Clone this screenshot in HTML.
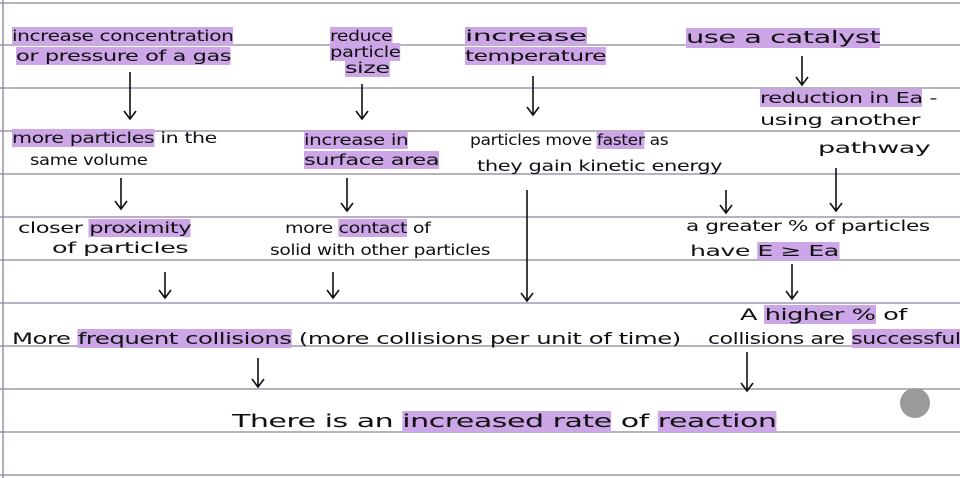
<!DOCTYPE html>
<html><head><style>
body{margin:0;width:960px;height:478px;overflow:hidden;background:#fff;position:relative;font-family:"DejaVu Sans","Liberation Sans",sans-serif;color:#111}
.t{position:absolute;white-space:nowrap;font-size:15px;line-height:17px;letter-spacing:-0.3px;transform-origin:0 50%}
.h{background:#cda6e8}
svg{position:absolute;left:0;top:0}
</style></head><body>
<svg width="960" height="478">
<g stroke="#8f8299" stroke-width="1.3">
<line x1="0" y1="3" x2="960" y2="3"/><line x1="0" y1="45" x2="960" y2="45"/><line x1="0" y1="88" x2="960" y2="88"/>
<line x1="0" y1="131" x2="960" y2="131"/><line x1="0" y1="174" x2="960" y2="174"/><line x1="0" y1="217" x2="960" y2="217"/>
<line x1="0" y1="260" x2="960" y2="260"/><line x1="0" y1="303" x2="960" y2="303"/><line x1="0" y1="346" x2="960" y2="346"/>
<line x1="0" y1="389" x2="960" y2="389"/><line x1="0" y1="432" x2="960" y2="432"/><line x1="0" y1="475" x2="960" y2="475"/>
<line x1="3" y1="0" x2="3" y2="478"/>
</g>
<g stroke="#111" stroke-width="1.6" fill="none">
<path d="M130 72V118M124 111L130 119L136 111"/>
<path d="M362 84V118M356 111L362 119L368 111"/>
<path d="M533 76V114M527 107L533 115L539 107"/>
<path d="M802 56V84M796 77L802 85L808 77"/>
<path d="M121 178V208M115 201L121 209L127 201"/>
<path d="M347 178V210M341 203L347 211L353 203"/>
<path d="M726 190V212M720 205L726 213L732 205"/>
<path d="M836 168V210M830 203L836 211L842 203"/>
<path d="M165 272V297M159 290L165 298L171 290"/>
<path d="M333 272V297M327 290L333 298L339 290"/>
<path d="M527 190V300M521 293L527 301L533 293"/>
<path d="M792 264V298M786 291L792 299L798 291"/>
<path d="M258 358V386M252 379L258 387L264 379"/>
<path d="M747 352V390M741 383L747 391L753 383"/>
</g>
<circle cx="915" cy="403" r="15" fill="#9a9a9a"/>
</svg>
<div class="t" style="left:12px;top:28px;transform:scaleX(1.34)"><span class="h">increase concentration</span></div>
<div class="t" style="left:16px;top:48px;transform:scaleX(1.5)"><span class="h">or pressure of a gas</span></div>
<div class="t" style="left:330px;top:28px;transform:scaleX(1.25)"><span class="h">reduce</span></div>
<div class="t" style="left:330px;top:44px;transform:scaleX(1.3)"><span class="h">particle</span></div>
<div class="t" style="left:345px;top:60px;transform:scaleX(1.6)"><span class="h">size</span></div>
<div class="t" style="left:465px;top:28px;transform:scaleX(2)"><span class="h">increase</span></div>
<div class="t" style="left:465px;top:48px;transform:scaleX(1.55)"><span class="h">temperature</span></div>
<div class="t" style="left:686px;top:30px;font-size:17px;transform:scaleX(1.7)"><span class="h">use a catalyst</span></div>
<div class="t" style="left:760px;top:90px;transform:scaleX(1.5)"><span class="h">reduction in Ea</span> -</div>
<div class="t" style="left:760px;top:112px;transform:scaleX(1.6)">using another</div>
<div class="t" style="left:818px;top:140px;transform:scaleX(1.8)">pathway</div>
<div class="t" style="left:12px;top:130px;transform:scaleX(1.37)"><span class="h">more particles</span> in the</div>
<div class="t" style="left:30px;top:152px;transform:scaleX(1.2)">same volume</div>
<div class="t" style="left:304px;top:132px;transform:scaleX(1.33)"><span class="h">increase in</span></div>
<div class="t" style="left:304px;top:152px;transform:scaleX(1.5)"><span class="h">surface area</span></div>
<div class="t" style="left:470px;top:132px;transform:scaleX(1.14)">particles move <span class="h">faster</span> as</div>
<div class="t" style="left:477px;top:158px;transform:scaleX(1.4)">they gain kinetic energy</div>
<div class="t" style="left:18px;top:220px;transform:scaleX(1.5)">closer <span class="h">proximity</span></div>
<div class="t" style="left:52px;top:240px;transform:scaleX(1.7)">of particles</div>
<div class="t" style="left:285px;top:220px;transform:scaleX(1.27)">more <span class="h">contact</span> of</div>
<div class="t" style="left:270px;top:242px;transform:scaleX(1.24)">solid with other particles</div>
<div class="t" style="left:686px;top:218px;transform:scaleX(1.44)">a greater % of particles</div>
<div class="t" style="left:690px;top:243px;transform:scaleX(1.68)">have <span class="h">E ≥ Ea</span></div>
<div class="t" style="left:740px;top:306px;font-size:16px;transform:scaleX(1.6)">A <span class="h">higher %</span> of</div>
<div class="t" style="left:708px;top:330px;font-size:16px;transform:scaleX(1.37)">collisions are <span class="h">successful</span></div>
<div class="t" style="left:12px;top:330px;font-size:16px;transform:scaleX(1.52)">More <span class="h">frequent collisions</span> (more collisions per unit of time)</div>
<div class="t" style="left:232px;top:411px;font-size:18px;line-height:22px;transform:scaleX(1.67)">There is an <span class="h">increased rate</span> of <span class="h">reaction</span></div>
</body></html>
